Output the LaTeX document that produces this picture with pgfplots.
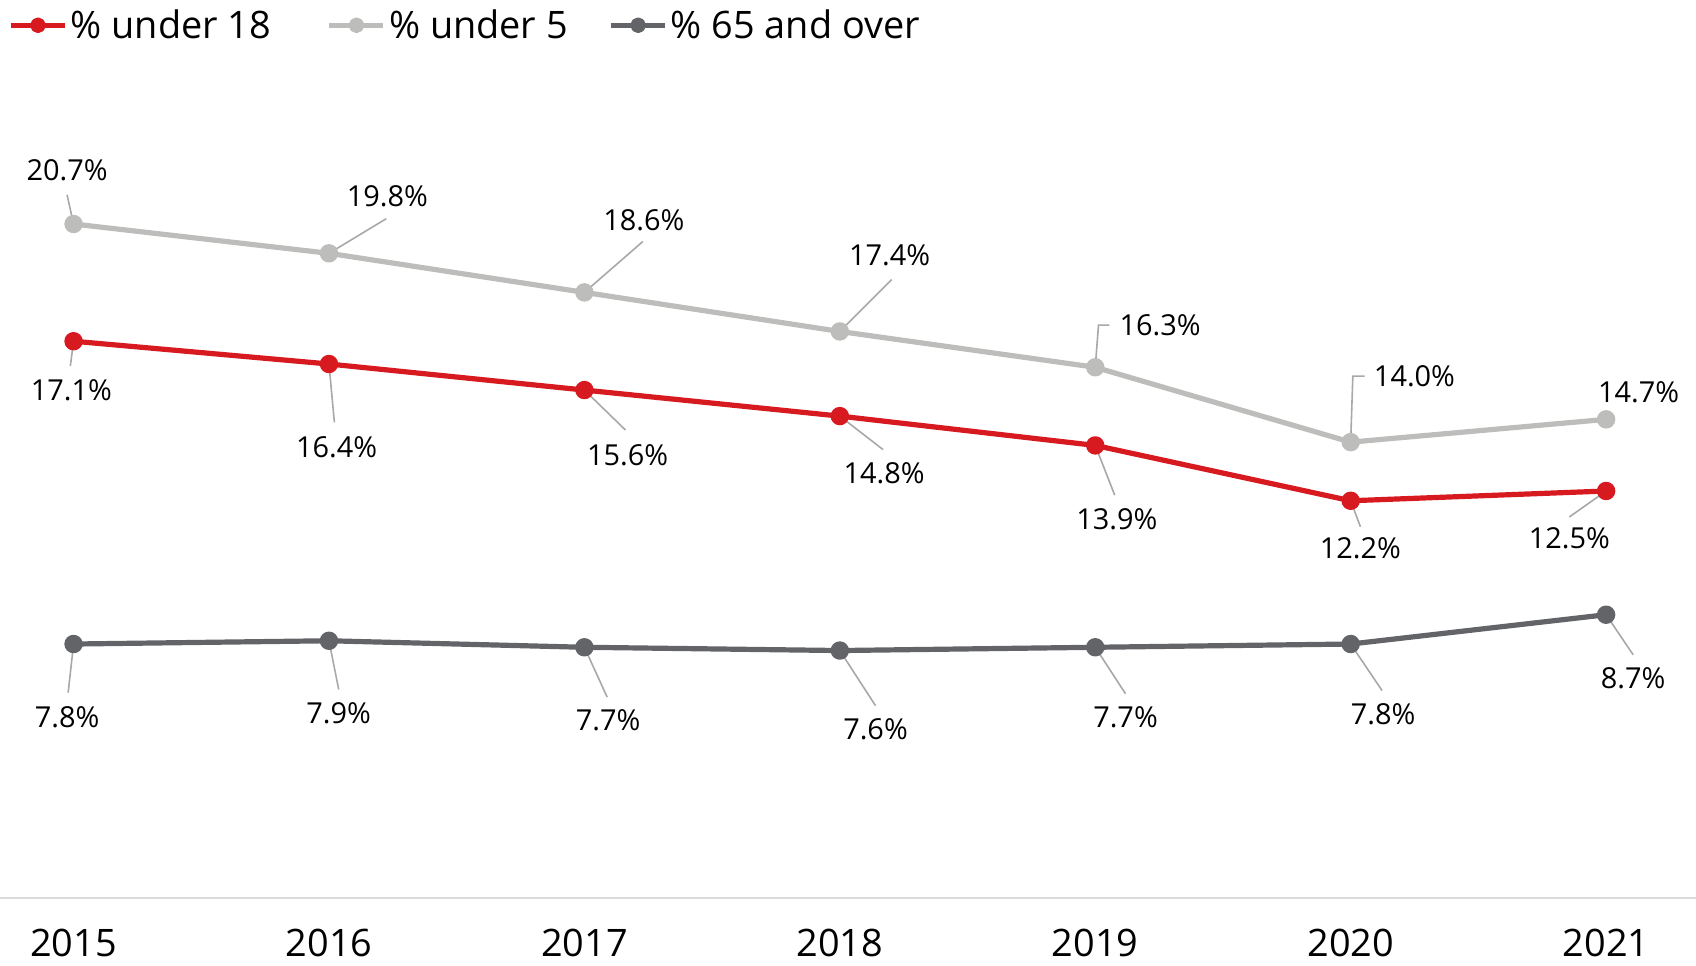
\documentclass[border=0pt]{standalone}
\usepackage{fontspec}
\setmainfont{Open Sans}
\usepackage{pgfplots}
\pgfplotsset{compat=1.18}
\usepackage{pgfplotstable}
\definecolor{cRed}{HTML}{D71920}
\definecolor{cLight}{HTML}{BDBDBB}
\definecolor{cDark}{HTML}{636468}
\definecolor{cLead}{HTML}{A8A8A8}
\definecolor{cAxis}{HTML}{DCDCDC}

\pgfplotstableread{
idx u18 u5 o65
0 17.1 20.7 7.8
1 16.4 19.8 7.9
2 15.6 18.6 7.7
3 14.8 17.4 7.6
4 13.9 16.3 7.7
5 12.2 14.0 7.8
6 12.5 14.7 8.7
}\data

\tikzset{lbl/.style={inner sep=0pt, font=\fontsize{14.5}{17}\selectfont, text=black},
  lead/.style={cLead, line width=0.8bp}}
% offsets in reference display pixels (1 px = 0.5408bp), y measured downward
\newcommand\lab[7]{%
  \draw[lead] (axis cs:#1,#2) -- ([xshift=#3*0.5408bp, yshift=-#4*0.5408bp]axis cs:#1,#2);
  \node[lbl, xshift=#5*0.5408bp, yshift=-#6*0.5408bp] at (axis cs:#1,#2) {#7};}
\newcommand\elab[7]{%
  \draw[lead] (axis cs:#1,#2) -- ([xshift=#3*0.5408bp, yshift=-#4*0.5408bp]axis cs:#1,#2)
     -- ([xshift=#3*0.5408bp+#5*0.5408bp, yshift=-#4*0.5408bp]axis cs:#1,#2);
  \node[lbl, xshift=#6*0.5408bp, yshift=-#4*0.5408bp] at (axis cs:#1,#2) {#7};}

\begin{document}
\begin{tikzpicture}
\begin{axis}[
  scale only axis,
  width=848bp, height=449bp,
  xmin=-0.288, xmax=6.352,
  ymin=0, ymax=27.58,
  clip=false,
  axis y line=none,
  axis x line*=bottom,
  x axis line style={cAxis, line width=1bp, -},
  xtick={0,1,2,3,4,5,6},
  xticklabels={2015,2016,2017,2018,2019,2020,2021},
  major tick length=0pt,
  ytick=\empty,
  xticklabel style={anchor=base, yshift=-29.2bp, inner sep=0pt, font=\fontsize{19}{23}\selectfont},
  legend columns=3,
  legend style={draw=none, fill=none, at={(0,1)}, anchor=north west, xshift=4bp, yshift=-3bp,
    inner sep=0pt, font=\fontsize{19}{22}\selectfont,
    nodes={inner sep=1.5bp},
    /tikz/column 2/.style={column sep=26.4bp},
    /tikz/column 4/.style={column sep=18.8bp}},
  legend cell align=left,
  legend image code/.code={\draw[mark repeat=2, mark phase=2, #1, mark size=2.6bp] plot coordinates {(0bp,0bp) (13.5bp,0bp) (27bp,0bp)};},
  every axis plot/.append style={line width=2.6bp, mark=*, mark size=3.3bp, line join=round},
]
\addplot[cRed, mark options={fill=cRed, draw=cRed}] table[x=idx, y=u18] {\data};
\addlegendentry{\% under 18}
\addplot[cLight, mark options={fill=cLight, draw=cLight}] table[x=idx, y=u5] {\data};
\addlegendentry{\% under 5}
\addplot[cDark, mark options={fill=cDark, draw=cDark}] table[x=idx, y=o65] {\data};
\addlegendentry{\% 65 and over}

% light gray labels
\lab{0}{20.7}{-6}{-27}{-6}{-50}{20.7\%}
\lab{1}{19.8}{53}{-32}{54}{-53}{19.8\%}
\lab{2}{18.6}{54}{-47}{55}{-67}{18.6\%}
\lab{3}{17.4}{48}{-48}{46}{-70}{17.4\%}
\elab{4}{16.3}{3}{-39}{10}{60}{16.3\%}
\elab{5}{14.0}{2}{-61}{11}{59}{14.0\%}
\node[lbl, xshift=30*0.5408bp, yshift=25*0.5408bp] at (axis cs:6,14.7) {14.7\%};
% red labels
\lab{0}{17.1}{-3}{23}{-2}{45}{17.1\%}
\lab{1}{16.4}{5}{54}{7}{77}{16.4\%}
\lab{2}{15.6}{38}{37}{40}{60}{15.6\%}
\lab{3}{14.8}{40}{31}{41}{53}{14.8\%}
\lab{4}{13.9}{18}{46}{20}{68}{13.9\%}
\lab{5}{12.2}{9}{24}{9}{44}{12.2\%}
\lab{6}{12.5}{-34}{24}{-34}{44}{12.5\%}
% dark labels
\lab{0}{7.8}{-5}{45}{-6}{68}{7.8\%}
\lab{1}{7.9}{9}{45}{9}{67}{7.9\%}
\lab{2}{7.7}{21}{46}{22}{67}{7.7\%}
\lab{3}{7.6}{33}{51}{33}{73}{7.6\%}
\lab{4}{7.7}{28}{43}{28}{65}{7.7\%}
\lab{5}{7.8}{29}{43}{30}{65}{7.8\%}
\lab{6}{8.7}{25}{37}{25}{59}{8.7\%}
\end{axis}
\pgfresetboundingbox
\path (0bp,-34bp) rectangle (848bp,449bp);
\end{tikzpicture}
\end{document}
